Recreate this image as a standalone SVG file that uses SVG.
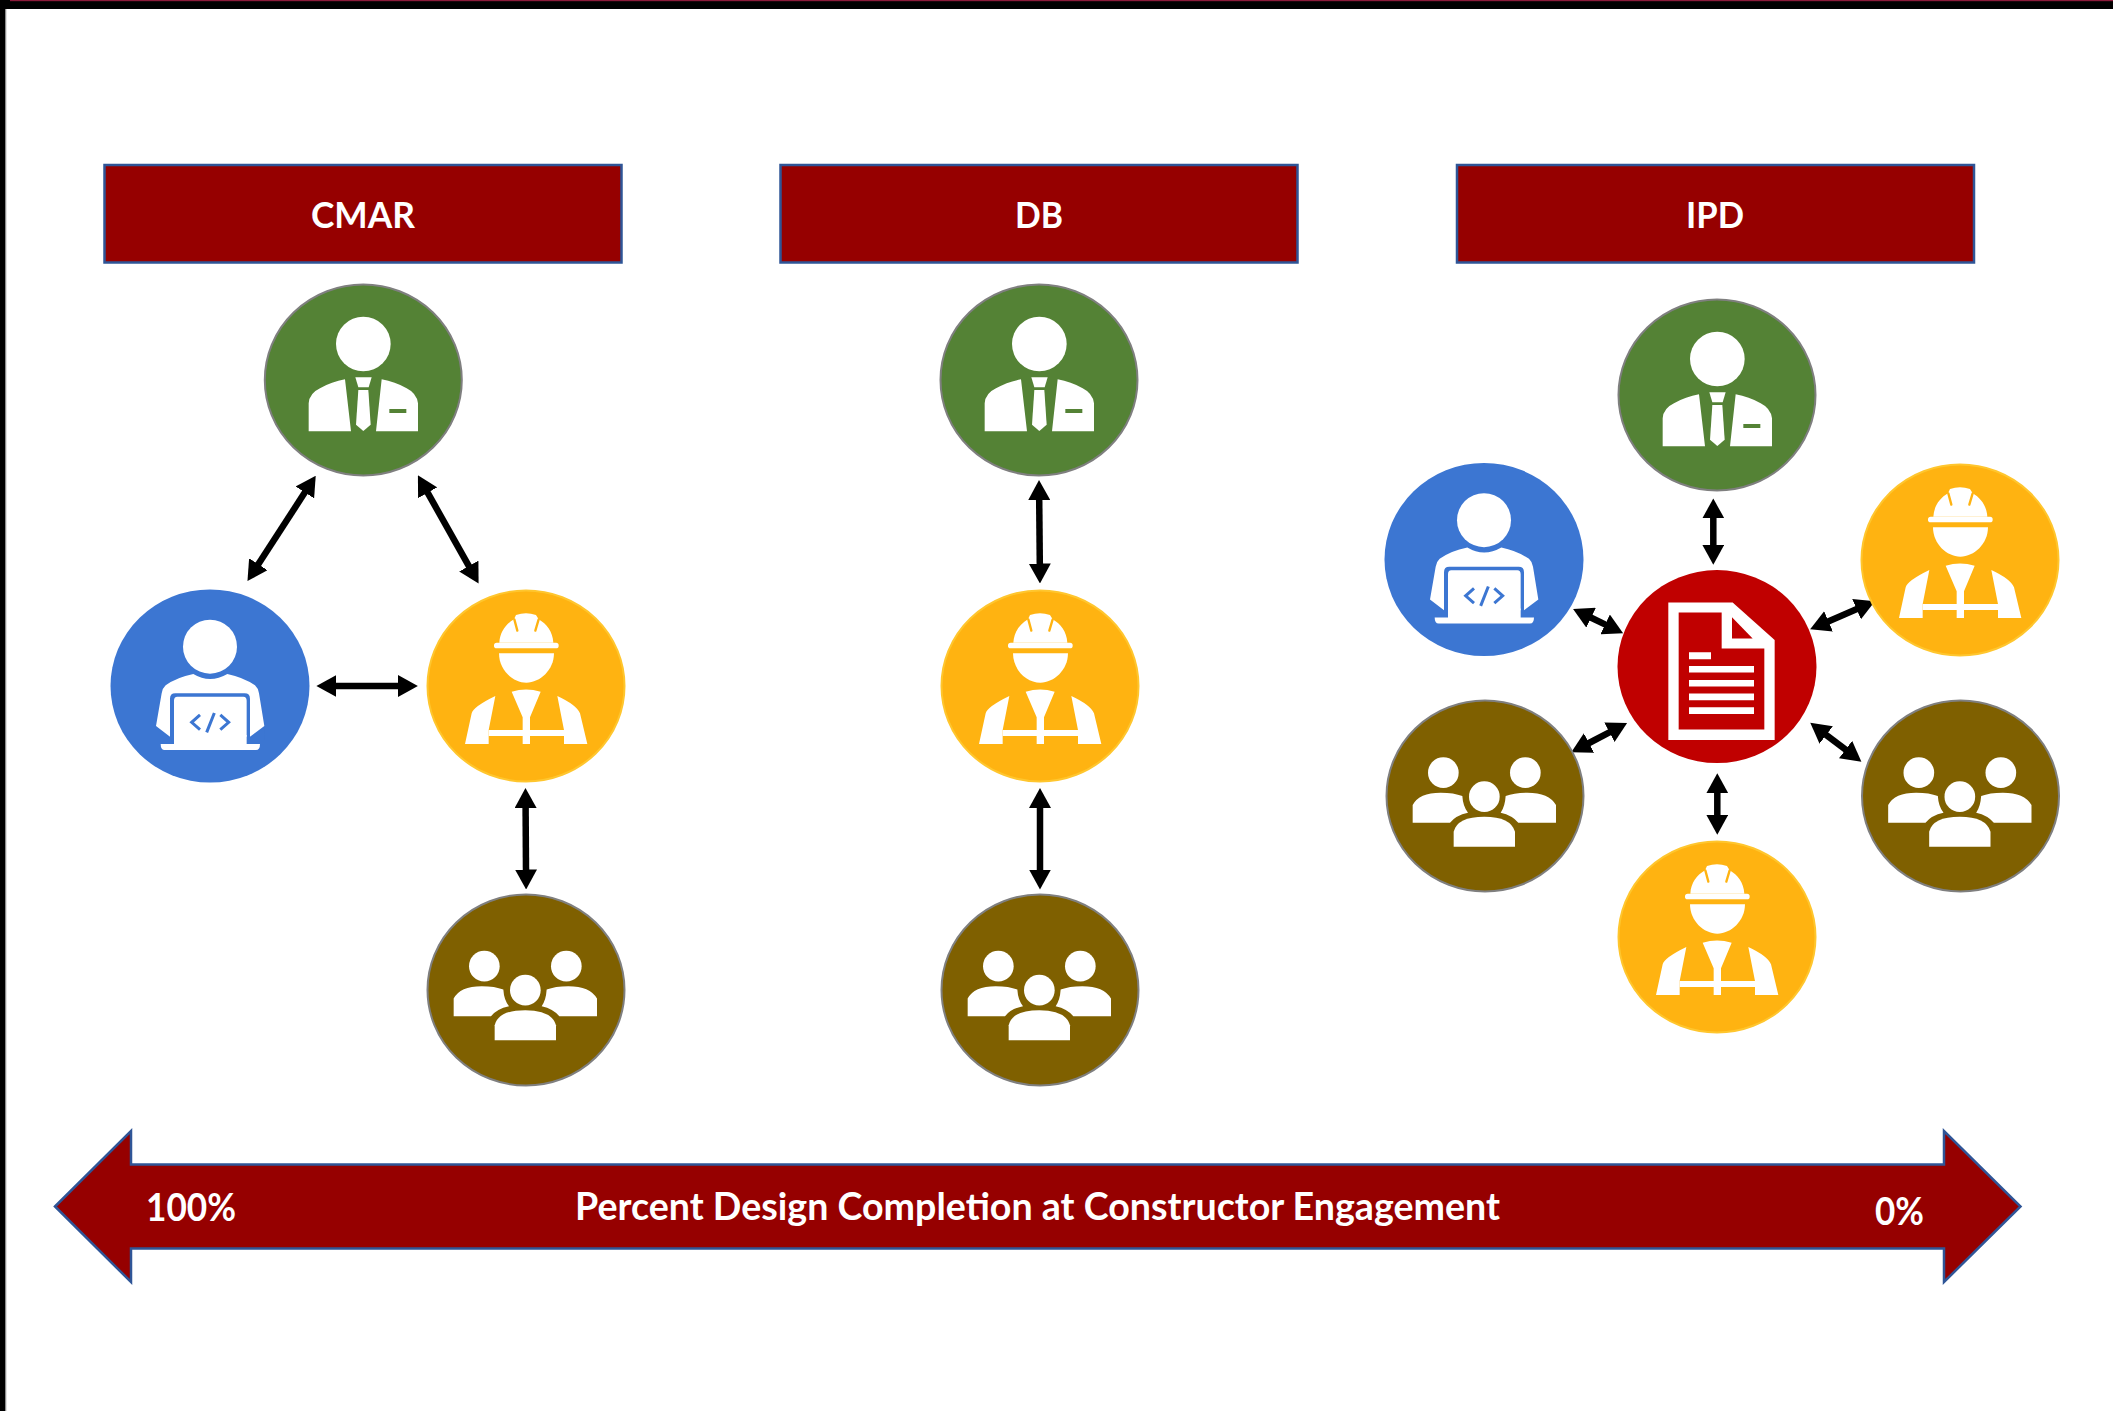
<svg xmlns="http://www.w3.org/2000/svg" width="2113" height="1411" viewBox="0 0 2113 1411">
<style>
.hdr{fill:#960000;stroke:#2f5597;stroke-width:2.5}
.t{font-family:"Lato","Carlito","Open Sans",sans-serif;font-weight:700;fill:#fff;font-size:36px}
.l{font-size:38px}
.m{text-anchor:middle}
.g{fill:#548235;stroke:#7f7f7f;stroke-width:2}
.b{fill:#3c76d2}
.y{fill:#ffb311;stroke:#ffc62e;stroke-width:2}
.br{fill:#7f6000;stroke:#7f7f7f;stroke-width:2}
.r{fill:#c00000}
.w{fill:#fff}
.c{stroke:#000;stroke-width:6.5;fill:none;marker-start:url(#ah);marker-end:url(#ah)}
</style>
<defs>
<marker id="ah" viewBox="0 0 20 22" markerWidth="20" markerHeight="22" refX="1" refY="11" markerUnits="userSpaceOnUse" orient="auto-start-reverse"><path d="M0,0L20,11L0,22Z" fill="#000"/></marker>
<g id="icon-owner" transform="scale(.3333) translate(-219 -240)">
<circle cx="220" cy="132" r="82" class="w"/>
<path class="w" d="M165,238L183,394H56V310Q58,280 90,265Q125,245 165,238Z"/>
<path class="w" d="M275,238L258,394H384V310Q380,280 350,265Q315,245 275,238Z"/>
<rect x="298" y="327" width="51" height="12" fill="#548235"/>
<path class="w" d="M196,232H245L236,262H205Z"/>
<path class="w" d="M205,270H235L242,374L220,393L198,374Z"/>
</g>
<g id="icon-dev" transform="scale(.3333) translate(-240 -258)">
<circle cx="240" cy="140" r="81" class="w"/>
<path class="w" d="M190,222Q240,252 292,222Q340,232 375,256Q385,265 387,280L403,378L360,410H120L78,378L95,280Q97,265 107,256Q140,232 190,222Z"/>
<path d="M120,414V296Q120,280 136,280H344Q360,280 360,296V414H350V302Q350,290 340,290H142Q132,290 132,302V414Z" fill="#3c76d2"/>
<path d="M120,414L78,382V420H120ZM360,414L403,382V420H360Z" fill="#3c76d2"/>
<path class="w" d="M132,432V405H350V432H390Q390,450 378,450H104Q92,450 92,432Z"/>
<path d="M210,345L185,367L210,389M271,345L296,367L271,389M253,339L230,397" fill="none" stroke="#3c76d2" stroke-width="9"/>
</g>
<g id="icon-worker" transform="scale(.3333) translate(-258 -258)">
<path class="w" d="M178,128C180,95 198,72 222,58L228,45Q258,35 288,45L296,58C320,72 338,95 340,128Z"/>
<path d="M223,58L232,92M296,58L286,92" stroke="#ffb311" stroke-width="7" stroke-linecap="round" fill="none"/>
<rect x="162" y="128" width="194" height="17" rx="8" class="w"/>
<path class="w" d="M177,160H342C342,210 300,248 259,248C218,248 177,210 177,160Z"/>
<path class="w" d="M215,275Q258,262 302,275L270,352V390H372V408H270V432H248V408H146V390H248V352Z"/>
<path class="w" d="M166,288L146,390V432H75L95,340Q100,320 166,288Z"/>
<path class="w" d="M352,288L372,390V432H442L420,340Q410,315 352,288Z"/>
</g>
<g id="icon-team" transform="scale(.3333) translate(-258 -238)">
<circle cx="133" cy="168" r="46" class="w"/>
<circle cx="379" cy="168" r="46" class="w"/>
<circle cx="256" cy="240" r="46" class="w"/>
<path class="w" d="M41,318V265Q60,228 125,228Q165,228 190,238Q192,270 207,288Q170,296 153,318Z"/>
<path class="w" d="M471,318V265Q450,228 385,228Q345,228 320,238Q318,270 305,288Q340,296 358,318Z"/>
<path class="w" d="M164,390V345Q175,300 256,300Q335,300 348,345V390Z"/>
</g>
<g id="icon-doc" transform="scale(.3333) translate(-231 -260)">
<path class="w" d="M85,68H278L404,180V480H85Z"/>
<path fill="#c00000" d="M116,98H245V206H373V449H116Z"/>
<path fill="#c00000" d="M276,112L338,176H276Z"/>
<path class="w" d="M147,217H213V238H147ZM147,258H342V278H147ZM147,300H342V320H147ZM147,341H342V361H147ZM147,382H342V402H147Z"/>
</g>
</defs>
<rect width="2113" height="1411" fill="#fff"/>
<g id="frame">
<rect width="2113" height="9" fill="#000"/>
<rect y="0" x="10" width="2103" height="1.2" fill="#8b1a3a"/>
<rect width="5.5" height="1411" fill="#000"/>
<rect x="5.5" y="9" width="0.8" height="1402" fill="#999"/>
</g>
<g id="connectors">
<line class="c" x1="305.4" y1="491.6" x2="257.8" y2="565.1"/>
<line class="c" x1="427.2" y1="491.9" x2="469.3" y2="566.9"/>
<line class="c" x1="335.4" y1="686" x2="398.9" y2="686"/>
<line class="c" x1="525.6" y1="807" x2="526" y2="870.5"/>
<line class="c" x1="1039.2" y1="499" x2="1039.8" y2="564.5"/>
<line class="c" x1="1040" y1="807" x2="1040" y2="870.5"/>
<line class="c" x1="1713.3" y1="517.4" x2="1713.3" y2="545.8"/>
<line class="c" x1="1717.3" y1="792.3" x2="1717.3" y2="815.8"/>
<line class="c" x1="1590.2" y1="617.3" x2="1606" y2="624.9"/>
<line class="c" x1="1827.6" y1="621.7" x2="1857.5" y2="608.8"/>
<line class="c" x1="1588.1" y1="743.5" x2="1610.3" y2="731.8"/>
<line class="c" x1="1825.4" y1="734.3" x2="1846.3" y2="750.2"/>
</g>
<g id="header-cmar"><rect class="hdr" x="104.5" y="165" width="517" height="97.5"/><text class="t m" x="363" y="227.5" textLength="104" lengthAdjust="spacingAndGlyphs">CMAR</text></g>
<g id="header-db"><rect class="hdr" x="780.5" y="165" width="517" height="97.5"/><text class="t m" x="1039" y="227.5" textLength="48" lengthAdjust="spacingAndGlyphs">DB</text></g>
<g id="header-ipd"><rect class="hdr" x="1457" y="165" width="517" height="97.5"/><text class="t m" x="1715" y="227.5" textLength="58" lengthAdjust="spacingAndGlyphs">IPD</text></g>
<g id="cmar-owner"><ellipse class="g" cx="363.3" cy="380" rx="98.5" ry="95.5"/><use href="#icon-owner" transform="translate(363 380)"/></g>
<g id="cmar-designer"><ellipse class="b" cx="210" cy="686" rx="99.5" ry="96.5"/><use href="#icon-dev" transform="translate(210 686)"/></g>
<g id="cmar-contractor"><ellipse class="y" cx="526" cy="686" rx="98.5" ry="95.5"/><use href="#icon-worker" transform="translate(526 686)"/></g>
<g id="cmar-team"><ellipse class="br" cx="526" cy="990" rx="98.5" ry="95.5"/><use href="#icon-team" transform="translate(526 989.5)"/></g>
<g id="db-owner"><ellipse class="g" cx="1039" cy="380" rx="98.5" ry="95.5"/><use href="#icon-owner" transform="translate(1039 380)"/></g>
<g id="db-contractor"><ellipse class="y" cx="1040" cy="686" rx="98.5" ry="95.5"/><use href="#icon-worker" transform="translate(1040 686)"/></g>
<g id="db-team"><ellipse class="br" cx="1040" cy="990" rx="98.5" ry="95.5"/><use href="#icon-team" transform="translate(1040 989.5)"/></g>
<g id="ipd-owner"><ellipse class="g" cx="1717" cy="395" rx="98.5" ry="95.5"/><use href="#icon-owner" transform="translate(1717 395)"/></g>
<g id="ipd-designer"><ellipse class="b" cx="1484" cy="559.5" rx="99.5" ry="96.5"/><use href="#icon-dev" transform="translate(1484 559.5)"/></g>
<g id="ipd-contractor-top"><ellipse class="y" cx="1960" cy="560" rx="98.5" ry="95.5"/><use href="#icon-worker" transform="translate(1960 560)"/></g>
<g id="ipd-document"><ellipse class="r" cx="1717" cy="666.6" rx="99.5" ry="96.5"/><use href="#icon-doc" transform="translate(1717 666.6)"/></g>
<g id="ipd-team-left"><ellipse class="br" cx="1485" cy="796" rx="98.5" ry="95.5"/><use href="#icon-team" transform="translate(1485 796)"/></g>
<g id="ipd-team-right"><ellipse class="br" cx="1960.5" cy="796" rx="98.5" ry="95.5"/><use href="#icon-team" transform="translate(1960.5 796)"/></g>
<g id="ipd-contractor-bottom"><ellipse class="y" cx="1717" cy="937" rx="98.5" ry="95.5"/><use href="#icon-worker" transform="translate(1717 937)"/></g>
<g id="scale-arrow">
<path d="M55,1206.5L131,1131V1164.5H1944V1131L2020.5,1206.5L1944,1282V1248.5H131V1282Z" fill="#960000" stroke="#2f5597" stroke-width="2.5"/>
<text class="t l" x="146" y="1221" textLength="90" lengthAdjust="spacingAndGlyphs">100%</text>
<text class="t l" x="1875" y="1225" textLength="49" lengthAdjust="spacingAndGlyphs">0%</text>
<text class="t l" x="575" y="1220" textLength="925" lengthAdjust="spacingAndGlyphs">Percent Design Completion at Constructor Engagement</text>
</g>
</svg>
